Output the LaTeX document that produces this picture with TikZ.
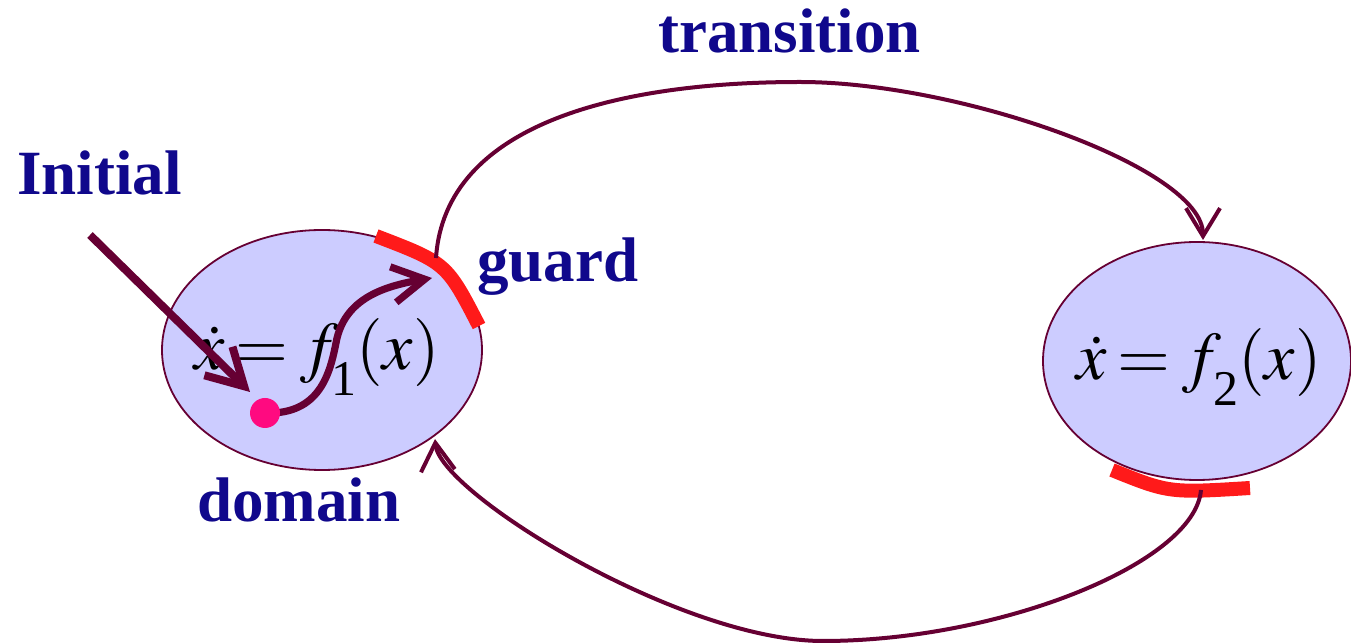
\documentclass[tikz,border=0pt]{standalone}
\usepackage{mathptmx}
\usepackage{fontspec}
\setmainfont{Liberation Serif}
\usetikzlibrary{arrows.meta,shapes.geometric}
\definecolor{navy}{RGB}{16,8,140}
\definecolor{maroonc}{RGB}{102,0,51}
\definecolor{guardred}{RGB}{255,26,26}
\definecolor{lav}{RGB}{204,204,255}
\definecolor{pinkc}{RGB}{255,10,128}
\newcommand{\subdigit}[1]{\mkern-2mu\raisebox{-13pt}{\fontsize{25}{25}\selectfont #1}}
\tikzset{
  loc/.style={ellipse, draw=maroonc, line width=0.9pt, fill=lav, inner sep=0pt},
  lbl/.style={text=navy, font=\fontsize{31.5}{34}\selectfont\bfseries, inner sep=0pt, anchor=base west},
  eqn/.style={font=\fontsize{34}{40}\selectfont, inner sep=0pt, anchor=base},
  guardband/.style={draw=guardred, line width=7pt},
  trans/.style={draw=maroonc, line width=2pt, -{Straight Barb[length=14pt,width=17pt]}},
  flow/.style={draw=maroonc, line width=3.6pt, -{Straight Barb[length=16pt,width=18pt]}},
  initarrow/.style={draw=maroonc, line width=4pt, -{Straight Barb[length=18pt,width=20pt]}}
}
\begin{document}
\begin{tikzpicture}[x=0.5pt,y=0.5pt]
\useasboundingbox (0,0) rectangle (1351,643);
% locations
\node[loc, minimum width=160pt, minimum height=120pt] (q1) at (322,293) {};
\node[loc, minimum width=154pt, minimum height=119pt] (q2) at (1197,282) {};
% equations
\node[eqn] (e1) at (317,273) {$\dot{x}\mskip3mu{=}\mskip3mu f\subdigit{1}(x)$};
\node[eqn] (e2) at (1199,263) {$\dot{x}\mskip3mu{=}\mskip3mu f\subdigit{2}(x)$};
% guards
\coordinate (ga) at (376,407);
\coordinate (gb) at (479,317);
\draw[guardband] (ga) .. controls (446.5,380) .. (gb);
\coordinate (gc) at (1112,173);
\coordinate (gd) at (1250,155);
\draw[guardband] (gc) .. controls (1169,150) .. (gd);
% transitions
\coordinate (t1s) at (436,385);
\coordinate (t1p) at (800,561);
\coordinate (t1e) at (1203,403);
\draw[trans] (t1s) .. controls (445,520) and (620,561) .. (t1p)
  .. controls (960,561) and (1203,475) .. (t1e);
\coordinate (t2s) at (1201,153);
\coordinate (t2p) at (823,2);
\coordinate (t2e) at (435,204);
\draw[trans] (t2s) .. controls (1195,80) and (1000,2) .. (t2p)
  .. controls (680,2) and (440,150) .. (t2e);
% trajectory
\coordinate (x0) at (265,230);
\coordinate (xm) at (336,300);
\coordinate (xe) at (432,365);
\draw[flow] (x0) .. controls (320,228) and (330,270) .. (xm)
  .. controls (344,345) and (385,357) .. (xe);
% initial arrow
\coordinate (i0) at (90,408);
\coordinate (i1) at (250,251);
\draw[initarrow] (i0) -- (i1);
\node[circle, fill=pinkc, inner sep=0pt, minimum size=15pt] (dot) at (x0) {};
% labels
\node[lbl] (linit) at (17,448) {Initial};
\node[lbl] (ltrans) at (658,590) {transition};
\node[lbl] (lguard) at (477,361) {guard};
\node[lbl] (ldom) at (197,121) {domain};
\end{tikzpicture}
\end{document}
